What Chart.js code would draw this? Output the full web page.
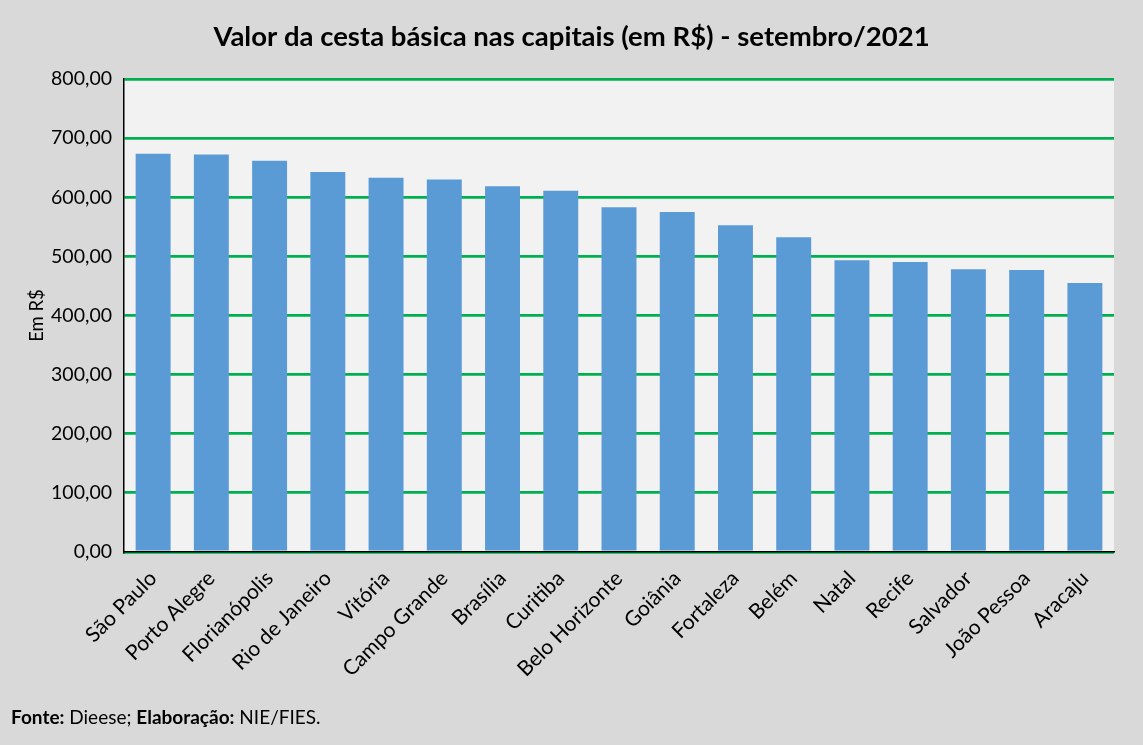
<!DOCTYPE html>
<html>
<head>
<meta charset="utf-8">
<script src="https://cdn.jsdelivr.net/npm/chart.js@4"></script>
<style>
  html, body { margin: 0; padding: 0; background: #d9d9d9; }
  #wrap { position: relative; width: 1143px; height: 745px; }
  #fonte { position: absolute; left: 11px; top: 705px; font-family: Lato, "Open Sans", sans-serif; font-size: 19px; color: #000; }
</style>
</head>
<body>
<div id="wrap">
  <canvas id="cestaChart" width="1143" height="745"></canvas>
  <div id="fonte"><b>Fonte:</b> Dieese; <b>Elaboração:</b> NIE/FIES.</div>
</div>
<script>
// Valor da cesta basica, setembro/2021 (R$)
const capitals = ['São Paulo', 'Porto Alegre', 'Florianópolis', 'Rio de Janeiro', 'Vitória', 'Campo Grande',
    'Brasília', 'Curitiba', 'Belo Horizonte', 'Goiânia', 'Fortaleza', 'Belém', 'Natal', 'Recife',
    'Salvador', 'João Pessoa', 'Aracaju'];
const values = [673.45, 672.46, 661.93, 642.57, 632.93, 630.13, 618.41, 611.18, 583.08, 575.10, 552.52,
    532.43, 493.36, 490.35, 478.37, 476.88, 454.84];
const yTicks = [0, 100, 200, 300, 400, 500, 600, 700, 800];

const plotBackground = {
    id: 'plotBackground',
    beforeDraw(chart) {
        const { ctx, chartArea: a } = chart;
        ctx.save();
        ctx.fillStyle = '#f2f2f2';
        ctx.fillRect(a.left, a.top, a.right - a.left, a.bottom - a.top);
        ctx.restore();
    }
};

Chart.defaults.font.family = 'Lato, "Open Sans", sans-serif';
Chart.defaults.color = '#000';

const ctx = document.getElementById('cestaChart').getContext('2d');
new Chart(ctx, {
    type: 'bar',
    data: {
        labels: capitals,
        datasets: [{
            label: 'Valor da cesta básica',
            data: values,
            backgroundColor: '#5b9bd5',
            borderWidth: 0,
            categoryPercentage: 1,
            barPercentage: 0.6
        }]
    },
    options: {
        responsive: false,
        animation: false,
        layout: { padding: { left: 0, right: 0, top: 0, bottom: 60 } },
        plugins: {
            legend: { display: false },
            tooltip: { enabled: false },
            title: {
                display: true,
                text: 'Valor da cesta básica nas capitais (em R$) - setembro/2021',
                font: { size: 27.5, weight: 'bold' },
                color: '#000',
                padding: { top: 21, bottom: 25 }
            }
        },
        scales: {
            x: {
                grid: { display: false },
                border: { display: true, color: '#000', width: 1.5 },
                ticks: { minRotation: 45, maxRotation: 45, font: { size: 21 }, color: '#000', padding: 6 },
                afterFit: (s) => { s.height = 133; }
            },
            y: {
                min: 0,
                max: 800,
                afterBuildTicks: (s) => { s.ticks = yTicks.map(v => ({ value: v })); },
                grid: { color: '#00b050', lineWidth: 2.8, drawTicks: false },
                border: { display: true, color: '#000', width: 1.5 },
                ticks: {
                    font: { size: 19.5 },
                    color: '#000',
                    padding: 12,
                    callback: (v) => v.toFixed(2).replace('.', ',')
                },
                title: { display: true, text: 'Em R$', font: { size: 18.5 }, color: '#000', padding: { top: 26, bottom: 0 } },
                afterFit: (s) => { s.width = 124; }
            },
            // empty right-hand spacer so the title stays centred on the page
            spacer: {
                type: 'linear',
                position: 'right',
                display: true,
                grid: { display: false, drawTicks: false },
                border: { display: false },
                ticks: { display: false },
                afterFit: (s) => { s.width = 29; }
            }
        }
    },
    plugins: [plotBackground]
});
</script>
</body>
</html>
